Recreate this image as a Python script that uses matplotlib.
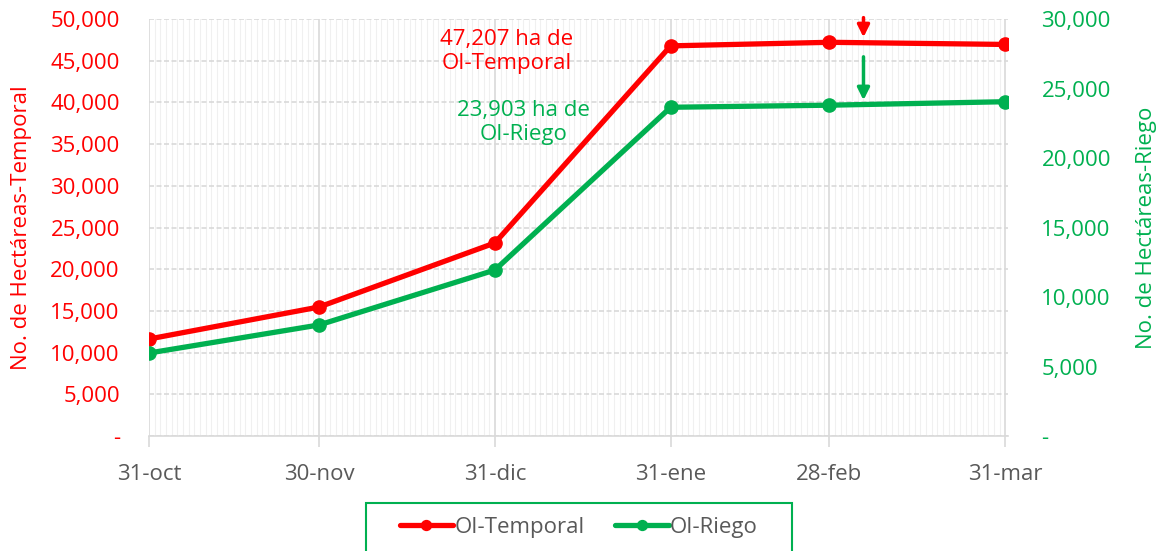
import matplotlib.pyplot as plt
import matplotlib.dates as mdates
from matplotlib.ticker import FuncFormatter, MultipleLocator
from matplotlib.patches import Rectangle
import pandas as pd

# data
fechas = pd.to_datetime(["2022-10-31", "2022-11-30", "2022-12-31",
                         "2023-01-31", "2023-02-28", "2023-03-31"])
etiquetas = ["31-oct", "30-nov", "31-dic", "31-ene", "28-feb", "31-mar"]
temporal = [11630, 15470, 23150, 46780, 47207, 46950]
riego = [5970, 7990, 11940, 23650, 23800, 24050]

ROJO = "#FF0000"
VERDE = "#00B050"
GRIS = "#595959"
FS = 16

plt.rcParams['font.family'] = ['Open Sans', 'DejaVu Sans']

fig = plt.figure(figsize=(11.61, 5.51), dpi=100)
ax = fig.add_axes([0.1283, 0.2087, 0.740, 0.7568])
ax2 = ax.twinx()

# lines
l1, = ax.plot(fechas, temporal, color=ROJO, lw=3.8, marker="o", ms=9.5,
              label="OI-Temporal", zorder=5, solid_capstyle="round")
l2, = ax2.plot(fechas, riego, color=VERDE, lw=3.8, marker="o", ms=9.5,
               label="OI-Riego", zorder=5, solid_capstyle="round")

ax.set_ylim(0, 50000)
ax2.set_ylim(0, 30000)
ax.set_xlim(fechas[0], fechas[-1] + pd.Timedelta(days=0.5))

def miles(v, pos):
    if v == 0:
        return "-"
    return "{:,.0f}".format(v)

ax.yaxis.set_major_locator(MultipleLocator(5000))
ax2.yaxis.set_major_locator(MultipleLocator(5000))
ax.yaxis.set_major_formatter(FuncFormatter(miles))
ax2.yaxis.set_major_formatter(FuncFormatter(miles))

ax.set_xticks(fechas)
ax.set_xticklabels(etiquetas)
ax.xaxis.set_minor_locator(mdates.DayLocator())

# grid
ax.grid(which="major", axis="x", color="#D9D9D9", lw=1.2)
ax.grid(which="minor", axis="x", color="#F0F0F0", lw=0.8)
ax.grid(which="major", axis="y", color="#D9D9D9", lw=1.2, ls=(0, (3, 1.5)))
ax.set_axisbelow(True)

for a in (ax, ax2):
    for s in a.spines.values():
        s.set_visible(False)
ax.spines["bottom"].set_visible(True)
ax.spines["bottom"].set_color("#D9D9D9")
ax.spines["bottom"].set_linewidth(1.2)

ax.tick_params(axis="x", which="major", length=8, color="#D9D9D9", width=1.2,
               labelsize=FS, labelcolor=GRIS, pad=12)
ax.tick_params(axis="x", which="minor", length=0)
ax.tick_params(axis="y", length=0, labelsize=FS, labelcolor=ROJO, pad=21)
ax2.tick_params(axis="y", length=0, labelsize=FS, labelcolor=VERDE, pad=24)

ax.set_ylabel("No. de Hectáreas-Temporal", color=ROJO, fontsize=FS, labelpad=13)
ax2.set_ylabel("No. de Hectáreas-Riego", color=VERDE, fontsize=FS, labelpad=18)

# annotations
ax.text(pd.Timestamp("2023-01-02"), 43450, "47,207 ha de\nOI-Temporal",
        color=ROJO, fontsize=FS, ha="center", va="bottom", linespacing=1.15)
ax2.text(pd.Timestamp("2023-01-05"), 20950, "23,903 ha de\nOI-Riego",
         color=VERDE, fontsize=FS, ha="center", va="bottom", linespacing=1.15)

flecha_x = pd.Timestamp("2023-03-06")
ax.annotate("", xy=(flecha_x, 47480), xytext=(flecha_x, 50500),
            arrowprops=dict(arrowstyle="-|>", color=ROJO, lw=2.5, mutation_scale=18),
            annotation_clip=False)
ax2.annotate("", xy=(flecha_x, 23960), xytext=(flecha_x, 27480),
             arrowprops=dict(arrowstyle="-|>", color=VERDE, lw=2.5, mutation_scale=18),
             annotation_clip=False)

# legend (box drawn separately so it can be wider than the entries)
fig.legend(handles=[l1, l2], loc="center",
           bbox_to_anchor=(0.4985, 1 - 527 / 551), ncol=2, fontsize=FS,
           frameon=False, handlelength=2.4, columnspacing=1.4,
           borderpad=0, borderaxespad=0, handletextpad=0.05,
           markerscale=0.75, labelcolor=GRIS)
fig.patches.append(Rectangle((366 / 1161, -0.02), 426 / 1161, 0.02 + 48 / 551,
                             transform=fig.transFigure, fill=False,
                             edgecolor=VERDE, lw=1.5))

fig.savefig("out.png", dpi=100)
